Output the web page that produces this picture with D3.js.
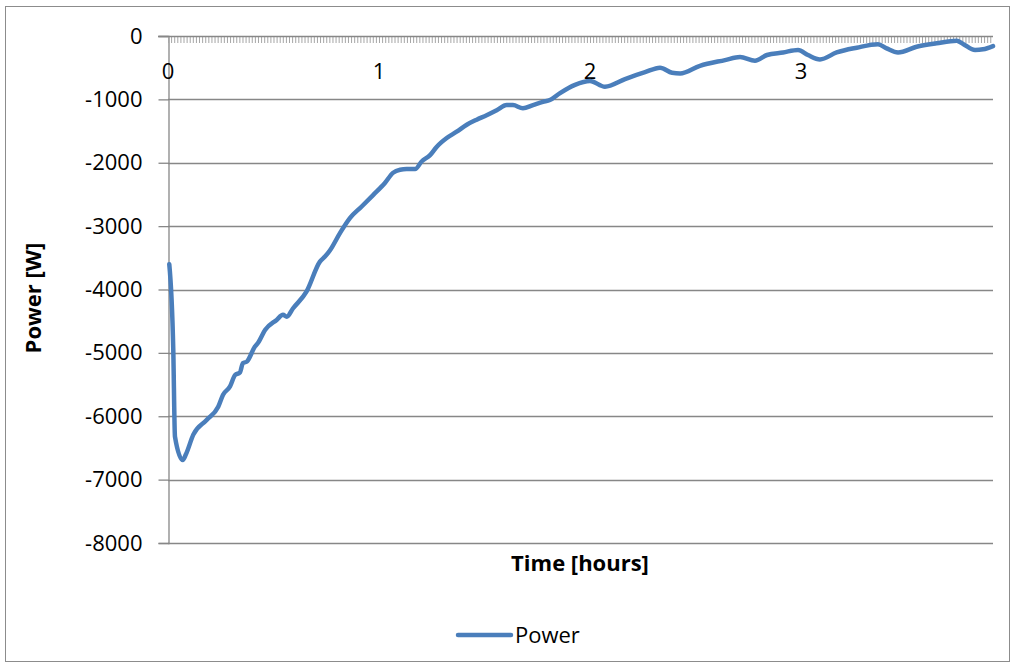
<!DOCTYPE html>
<html>
<head>
<meta charset="utf-8">
<script src="https://cdn.jsdelivr.net/npm/d3@7"></script>
<style>
  html, body { margin: 0; padding: 0; background: #fff; }
  svg { display: block; }
  text { font-family: "Open Sans", "Liberation Sans", sans-serif; fill: #000; }
</style>
</head>
<body>
<svg id="chart" width="1015" height="667"></svg>
<script>
// Time since start [hours]
const timeHours = [
  0.006, 0.025, 0.033, 0.070, 0.085, 0.120, 0.183, 0.238, 0.261, 0.294,
  0.318, 0.341, 0.355, 0.373, 0.412, 0.427, 0.460, 0.515, 0.545, 0.563,
  0.592, 0.657, 0.720, 0.744, 0.768, 0.815, 0.863, 0.918, 0.972, 1.028,
  1.066, 1.100, 1.131, 1.171, 1.202, 1.242, 1.273, 1.321, 1.368, 1.416,
  1.463, 1.510, 1.558, 1.605, 1.635, 1.682, 1.730, 1.777, 1.810, 1.858,
  1.929, 2.000, 2.071, 2.166, 2.261, 2.332, 2.389, 2.427, 2.521, 2.640,
  2.711, 2.782, 2.839, 2.915, 2.986, 3.033, 3.090, 3.169, 3.264, 3.365,
  3.406, 3.460, 3.548, 3.643, 3.738, 3.768, 3.825, 3.863, 3.910
];
// Power [W]
const powerW = [
  -3600, -4950, -6320, -6690, -6600, -6290, -6060, -5850, -5660, -5530,
  -5350, -5310, -5160, -5140, -4900, -4840, -4640, -4480, -4400, -4430,
  -4300, -4030, -3560, -3480, -3380, -3110, -2870, -2690, -2510, -2320,
  -2160, -2110, -2100, -2100, -1980, -1880, -1750, -1610, -1510, -1400,
  -1320, -1250, -1170, -1090, -1090, -1140, -1090, -1040, -1010, -900,
  -770, -710, -800, -680, -570, -500, -580, -590, -470, -380,
  -330, -390, -300, -260, -220, -300, -370, -260, -185, -130,
  -195, -260, -170, -115, -75, -125, -220, -210, -160
];
const xTickLabels = [0, 1, 2, 3];
const yTickValues = [0, -1000, -2000, -3000, -4000, -5000, -6000, -7000, -8000];
const seriesName = "Power";

const FONT = 22;
const svg = d3.select("#chart");
const W = 1015, H = 667;
const plot = { left: 168, top: 36, right: 993, bottom: 543 };

// Outer chart frame
svg.append("rect")
  .attr("x", 5.5).attr("y", 6.5)
  .attr("width", W - 11).attr("height", H - 12)
  .attr("fill", "#fff").attr("stroke", "#8c8c8c").attr("stroke-width", 1);

const x = d3.scaleLinear().domain([0, 3.91]).range([plot.left, plot.right]);
const y = d3.scaleLinear().domain([-8000, 0]).range([plot.bottom, plot.top]);

// Horizontal gridlines
svg.append("g")
  .selectAll("line")
  .data(yTickValues.filter(v => v !== 0))
  .join("line")
  .attr("x1", plot.left).attr("x2", plot.right)
  .attr("y1", d => Math.round(y(d)) + 0.5).attr("y2", d => Math.round(y(d)) + 0.5)
  .attr("stroke", "#878787").attr("stroke-width", 1.3);

// Y axis with outward ticks; plain hyphen for negatives
const yAxis = d3.axisLeft(y).tickValues(yTickValues).tickSize(10).tickPadding(16)
  .tickFormat(d => String(d));
const yg = svg.append("g")
  .attr("transform", `translate(${plot.left + 0.5},0)`)
  .call(yAxis);
yg.select(".domain").attr("stroke", "#878787").attr("stroke-width", 1.3);
yg.selectAll(".tick line").attr("stroke", "#878787").attr("stroke-width", 1.3);
yg.selectAll(".tick text")
  .style("font-family", '"Open Sans", "Liberation Sans", sans-serif')
  .style("font-size", FONT + "px").attr("fill", "#000");

// X axis along the zero line: dense minor ticks, labels every hour
const tickStep = 1 / 68;
const minorTicks = d3.range(0, 3.91 + 1e-9, tickStep);
svg.append("g")
  .selectAll("line")
  .data(minorTicks)
  .join("line")
  .attr("x1", d => x(d) + 0.5).attr("x2", d => x(d) + 0.5)
  .attr("y1", y(0)).attr("y2", y(0) + 7)
  .attr("stroke", "#a6a6a6").attr("stroke-width", 1);
svg.append("line")
  .attr("x1", plot.left - 10).attr("x2", plot.right)
  .attr("y1", y(0) + 0.5).attr("y2", y(0) + 0.5)
  .attr("stroke", "#878787").attr("stroke-width", 1.3);
svg.append("g")
  .selectAll("text")
  .data(xTickLabels)
  .join("text")
  .attr("x", d => x(d))
  .attr("y", 79)
  .attr("text-anchor", "middle")
  .style("font-size", FONT + "px")
  .text(d => d);

// Power curve
const line = d3.line()
  .x((d, i) => x(timeHours[i]))
  .y(d => y(d))
  .curve(d3.curveMonotoneX);
svg.append("path")
  .datum(powerW)
  .attr("d", line)
  .attr("fill", "none")
  .attr("stroke", "#4a7ebb")
  .attr("stroke-width", 4.5)
  .attr("stroke-linejoin", "round")
  .attr("stroke-linecap", "round");

// Axis titles
svg.append("text")
  .attr("x", 580).attr("y", 571)
  .attr("text-anchor", "middle")
  .style("font-size", FONT + "px").style("font-weight", "bold")
  .text("Time [hours]");
svg.append("text")
  .attr("transform", "translate(41,298) rotate(-90)")
  .attr("text-anchor", "middle")
  .style("font-size", FONT + "px").style("font-weight", "bold")
  .text("Power [W]");

// Legend
svg.append("line")
  .attr("x1", 458).attr("x2", 511)
  .attr("y1", 635).attr("y2", 635)
  .attr("stroke", "#4a7ebb").attr("stroke-width", 4.5)
  .attr("stroke-linecap", "round");
svg.append("text")
  .attr("x", 515).attr("y", 643)
  .style("font-size", FONT + "px")
  .text(seriesName);
</script>
</body>
</html>
